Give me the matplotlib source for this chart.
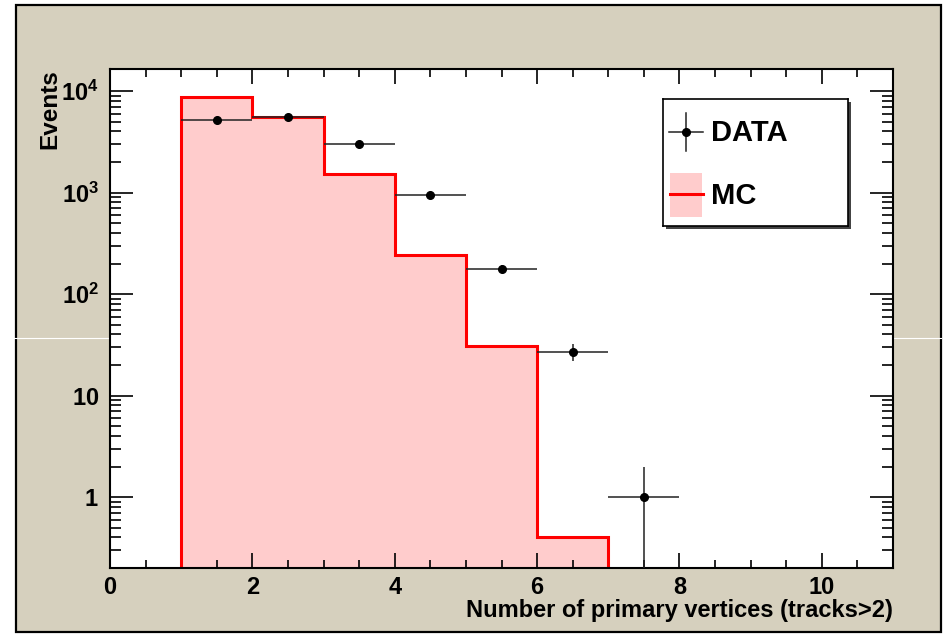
import numpy as np
import matplotlib
matplotlib.use("Agg")
import matplotlib.pyplot as plt
from matplotlib.patches import Rectangle
from matplotlib.lines import Line2D
from matplotlib.ticker import FixedLocator, NullFormatter

# ---- data ----
bin_edges = [1, 2, 3, 4, 5, 6, 7]
mc_counts = [8700, 5500, 1530, 245, 31, 0.40]
data_centers = [1.5, 2.5, 3.5, 4.5, 5.5, 6.5, 7.5]
data_counts = [5150, 5500, 3000, 940, 178, 27, 1]
data_half_width = [0.5] * 7
y_tick_values = [1, 10, 100, 1000, 10000]
y_tick_labels = [r"$\mathbf{1}$", r"$\mathbf{10}$", r"$\mathbf{10^{2}}$",
                 r"$\mathbf{10^{3}}$", r"$\mathbf{10^{4}}$"]
x_tick_values = [0, 2, 4, 6, 8, 10]

plt.rcParams["font.family"] = ["Liberation Sans", "DejaVu Sans"]
plt.rcParams["font.weight"] = "bold"
plt.rcParams["mathtext.fontset"] = "custom"
plt.rcParams["mathtext.bf"] = "Liberation Sans:bold"
plt.rcParams["mathtext.rm"] = "Liberation Sans:bold"

W, H = 948, 634
fig = plt.figure(figsize=(W / 100, H / 100), dpi=100)
fig.patch.set_facecolor("white")

def fx(px):
    return px / W

def fy(py):
    return 1 - py / H

# canvas pad with frame
fig.patches.append(Rectangle((fx(16), fy(632)), fx(941) - fx(16), fy(5) - fy(632),
                             transform=fig.transFigure, facecolor="#d6d0be",
                             edgecolor="black", linewidth=1.6, zorder=-10))

ax = fig.add_axes([fx(110), fy(568), fx(893) - fx(110), fy(69) - fy(568)], zorder=1)
ax.set_facecolor("white")
ax.set_yscale("log")
ax.set_xlim(0, 11)
ax.set_ylim(0.2, 16500)

# MC histogram
mc = np.array(mc_counts)
ax.stairs(mc, bin_edges, baseline=1e-3, fill=True, color="#ffcccc", zorder=1)
ax.stairs(mc, bin_edges, baseline=1e-3, fill=False, color="#ff0000",
          linewidth=2.2, zorder=2)

# data points with Poisson errors
counts = np.array(data_counts, dtype=float)
err = np.sqrt(counts)
err_low = np.where(counts - err > 0, err, counts - 1e-4)
ax.errorbar(data_centers, counts, xerr=data_half_width, yerr=[err_low, err],
            fmt="o", color="black", ecolor="#222222", markersize=5.5,
            elinewidth=1.1, capsize=0, zorder=3)

# axis styling
for s in ax.spines.values():
    s.set_linewidth(1.5)
ax.xaxis.set_major_locator(FixedLocator(x_tick_values))
ax.xaxis.set_minor_locator(FixedLocator(np.arange(0, 11.01, 0.5)))
ax.yaxis.set_major_locator(FixedLocator(y_tick_values))
minor_y = [m * 10 ** e for e in range(-1, 5) for m in range(2, 10)]
ax.yaxis.set_minor_locator(FixedLocator(minor_y))
ax.yaxis.set_minor_formatter(NullFormatter())
ax.set_xticklabels([str(v) for v in x_tick_values])
ax.set_yticklabels(y_tick_labels)

ax.tick_params(axis="x", which="major", direction="in", length=11, width=1.2,
               top=True, bottom=True, labelsize=17, pad=6)
ax.tick_params(axis="x", which="minor", direction="in", length=5.5, width=1.2,
               top=True, bottom=True)
ax.tick_params(axis="y", which="major", direction="in", length=16.5, width=1.2,
               left=True, right=True, labelsize=17, pad=8)
ax.tick_params(axis="y", which="minor", direction="in", length=8, width=1.2,
               left=True, right=True)

ax.set_xlabel("Number of primary vertices (tracks>2)", fontsize=17,
              fontweight="bold", loc="right", labelpad=0)
ax.set_ylabel("Events", fontsize=17.5, fontweight="bold", loc="top", labelpad=0)

# legend box with shadow
lx0, ly0, lx1, ly1 = 663, 99, 848, 226
fig.patches.append(Rectangle((fx(lx0 + 2.5), fy(ly1 + 2.5)), fx(lx1) - fx(lx0), fy(ly0) - fy(ly1),
                             transform=fig.transFigure, facecolor="#444444",
                             edgecolor="none", zorder=5))
lax = fig.add_axes([fx(lx0), fy(ly1), fx(lx1) - fx(lx0), fy(ly0) - fy(ly1)], zorder=6)
lax.set_xlim(lx0, lx1)
lax.set_ylim(ly1, ly0)
lax.set_xticks([])
lax.set_yticks([])
lax.set_facecolor("white")
for s in lax.spines.values():
    s.set_linewidth(1.2)

lax.plot([669, 703], [132, 132], color="#222222", lw=1.1)
lax.plot([686, 686], [113, 151], color="#222222", lw=1.1)
lax.plot([686], [132], "o", color="black", markersize=5.5)
lax.text(711, 133, "DATA", fontsize=21, fontweight="bold", va="center", ha="left")

lax.add_patch(Rectangle((670, 173), 32, 44, facecolor="#ffcccc", edgecolor="none"))
lax.plot([670, 703], [194, 194], color="#ff0000", lw=2.2)
lax.text(711, 196, "MC", fontsize=21, fontweight="bold", va="center", ha="left")

# thin light streak across the canvas
fig.lines.append(Line2D([0, fx(941)], [fy(338), fy(338)], transform=fig.transFigure,
                        color="white", lw=0.8, zorder=-5))

fig.savefig("out.png", dpi=100)
